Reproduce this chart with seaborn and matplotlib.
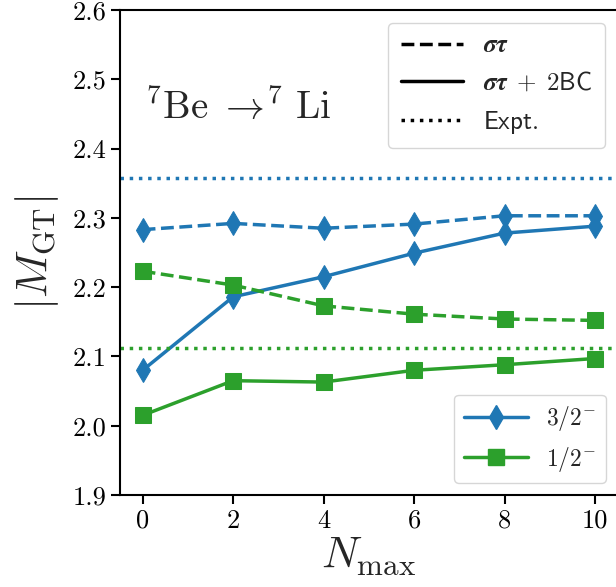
import numpy as np
import pandas as pd
import matplotlib
matplotlib.use("Agg")
import matplotlib.pyplot as plt
from matplotlib.lines import Line2D
import seaborn as sns

# ---- data ----
nmax = [0, 2, 4, 6, 8, 10]
j32_st = [2.283, 2.292, 2.285, 2.291, 2.303, 2.303]
j32_st2bc = [2.080, 2.186, 2.215, 2.249, 2.278, 2.288]
j12_st = [2.223, 2.203, 2.173, 2.161, 2.154, 2.152]
j12_st2bc = [2.015, 2.065, 2.063, 2.080, 2.088, 2.097]
expt_32 = 2.357
expt_12 = 2.112
yticks = [1.9, 2.0, 2.1, 2.2, 2.3, 2.4, 2.5, 2.6]
xticks = [0, 2, 4, 6, 8, 10]

sns.set_theme(style="ticks")
plt.rcParams.update({
    "font.family": "serif",
    "font.serif": ["cmr10", "DejaVu Serif"],
    "mathtext.fontset": "cm",
    "axes.formatter.use_mathtext": True,
    "axes.linewidth": 1.5,
    "xtick.major.width": 1.5,
    "ytick.major.width": 1.5,
    "xtick.major.size": 6.5,
    "ytick.major.size": 6.5,
    "xtick.labelsize": 19,
    "ytick.labelsize": 19,
    "axes.edgecolor": "black",
    "xtick.color": "black",
    "ytick.color": "black",
})

blue = "#1f77b4"
green = "#2ca02c"
lw = 2.5
ms_d = 12
ms_s = 11.5

fig = plt.figure(figsize=(6.16, 5.87), dpi=100)
ax = fig.add_axes([120 / 616, 1 - 495 / 587, (617.6 - 120) / 616, (495 - 10) / 587])

df = pd.DataFrame({"N": nmax, "a": j32_st, "b": j32_st2bc, "c": j12_st, "d": j12_st2bc})

sns.lineplot(data=df, x="N", y="a", ax=ax, color=blue, linestyle="--", marker="d",
             markersize=ms_d, markeredgecolor=blue, lw=lw)
sns.lineplot(data=df, x="N", y="b", ax=ax, color=blue, linestyle="-", marker="d",
             markersize=ms_d, markeredgecolor=blue, lw=lw)
sns.lineplot(data=df, x="N", y="c", ax=ax, color=green, linestyle="--", marker="s",
             markersize=ms_s, markeredgecolor=green, lw=lw)
sns.lineplot(data=df, x="N", y="d", ax=ax, color=green, linestyle="-", marker="s",
             markersize=ms_s, markeredgecolor=green, lw=lw)
ax.axhline(expt_32, color=blue, linestyle=":", lw=lw)
ax.axhline(expt_12, color=green, linestyle=":", lw=lw)

ax.set_xlim(-0.5, 10.5)
ax.set_ylim(1.9, 2.6)
ax.set_xticks(xticks)
ax.set_yticks(yticks)
ax.set_yticklabels([f"{v:.1f}" for v in yticks])
ax.set_xticklabels([str(v) for v in xticks])

ax.set_xlabel(r"$N_{\max}$", fontsize=32, labelpad=2)
ax.set_ylabel(r"$|M_{\mathrm{GT}}|$", fontsize=32, labelpad=8)

ax.text(0.05, 2.443, r"$^7\mathrm{Be}\ \rightarrow\!^7\ \mathrm{Li}$", fontsize=28,
        ha="left", va="baseline")

h1 = [Line2D([], [], color="black", ls="--", lw=lw),
      Line2D([], [], color="black", ls="-", lw=lw),
      Line2D([], [], color="black", ls=":", lw=lw)]
l1 = [r"$\boldsymbol{\sigma}\boldsymbol{\tau}$",
      r"$\boldsymbol{\sigma}\boldsymbol{\tau}\;+\;\mathsf{2BC}$",
      r"$\mathsf{Expt.}$"]
leg1 = ax.legend(h1, l1, loc="upper right", fontsize=18, frameon=True,
                 handlelength=2.5, labelspacing=0.55, borderpad=0.5)
ax.add_artist(leg1)

h2 = [Line2D([], [], color=blue, ls="-", lw=lw, marker="d", markersize=ms_d),
      Line2D([], [], color=green, ls="-", lw=lw, marker="s", markersize=ms_s)]
l2 = [r"$3/2^{-}$", r"$1/2^{-}$"]
ax.legend(h2, l2, loc="lower right", fontsize=17, frameon=True, handlelength=2.7)

fig.savefig("out.png", dpi=100)
